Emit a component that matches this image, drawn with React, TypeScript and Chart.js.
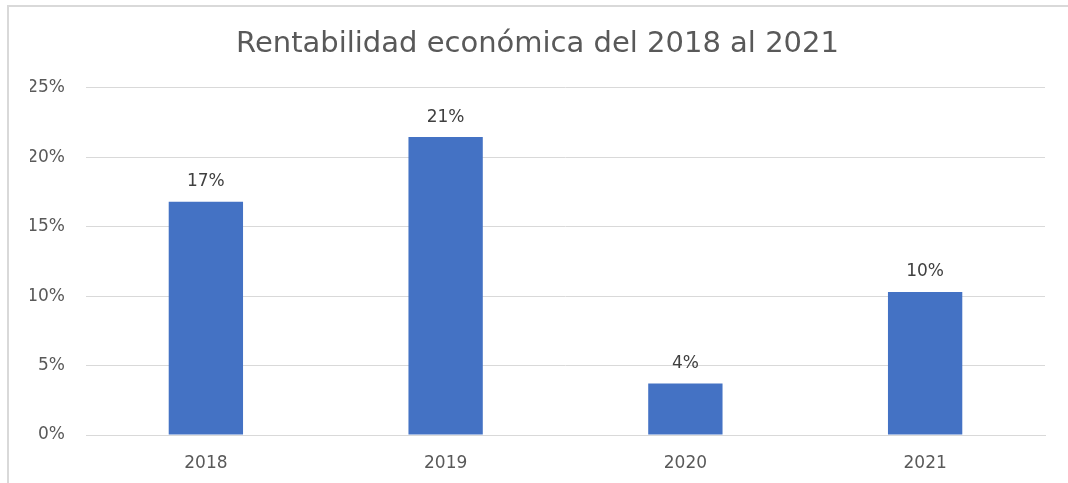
import React, { useEffect, useRef } from "react";
import { Chart, registerables } from "chart.js";

Chart.register(...registerables);

const TITLE = "Rentabilidad económica del 2018 al 2021";
const categories = ["2018", "2019", "2020", "2021"];
const values = [16.8, 21.45, 3.7, 10.3];
const yTicks = [0, 5, 10, 15, 20, 25];

const FONT = "DejaVu Sans";

const dataLabels = {
  id: "dataLabels",
  afterDatasetsDraw(chart: any) {
    const ctx = chart.ctx;
    const meta = chart.getDatasetMeta(0);
    ctx.save();
    ctx.font = `17px "${FONT}"`;
    ctx.fillStyle = "#404040";
    ctx.textAlign = "center";
    ctx.textBaseline = "middle";
    meta.data.forEach((el: any, i: number) => {
      ctx.fillText(`${Math.round(values[i])}%`, el.x, el.y - 20);
    });
    ctx.restore();
  },
};

export default function App() {
  const ref = useRef<HTMLCanvasElement | null>(null);

  useEffect(() => {
    document.body.style.margin = "0";
    const canvas = ref.current!;
    const chart = new Chart(canvas, {
      type: "bar",
      data: {
        labels: categories,
        datasets: [
          {
            data: values,
            backgroundColor: "#4472C4",
            borderWidth: 0,
            barPercentage: 0.31,
            categoryPercentage: 1,
          },
        ],
      },
      options: {
        responsive: false,
        animation: false,
        devicePixelRatio: 1,
        layout: { padding: { left: 30, right: 23, top: 0, bottom: 0 } },
        plugins: {
          legend: { display: false },
          tooltip: { enabled: false },
          title: {
            display: true,
            text: TITLE,
            color: "#595959",
            font: { family: FONT, size: 29, weight: "normal" },
            padding: { top: 27, bottom: 26 },
          },
        },
        scales: {
          x: {
            afterFit(scale: any) {
              scale.height = 48;
            },
            grid: { display: false, drawTicks: false },
            border: { display: true, color: "#d9d9d9", width: 1 },
            ticks: {
              color: "#595959",
              font: { family: FONT, size: 17 },
              padding: 18,
            },
          },
          y: {
            min: 0,
            max: 25,
            afterFit(scale: any) {
              scale.width = 56;
            },
            afterBuildTicks(scale: any) {
              scale.ticks = yTicks.map((v) => ({ value: v }));
            },
            grid: { color: "#d9d9d9", drawTicks: false, lineWidth: 1 },
            border: { display: false },
            ticks: {
              color: "#595959",
              font: { family: FONT, size: 17 },
              padding: 21,
              callback: (v: any) => `${v}%`,
            },
          },
        },
      },
      plugins: [dataLabels],
    });
    return () => chart.destroy();
  }, []);

  return (
    <div style={{ position: "relative", width: 1068, height: 483, background: "#fff", overflow: "hidden" }}>
      <div
        style={{
          position: "absolute",
          left: 7,
          top: 5,
          width: 1100,
          height: 500,
          borderTop: "2px solid #d9d9d9",
          borderLeft: "2px solid #d9d9d9",
          boxSizing: "border-box",
        }}
      />
      <canvas ref={ref} width={1068} height={483} style={{ position: "absolute", left: 0, top: 0 }} />
    </div>
  );
}
